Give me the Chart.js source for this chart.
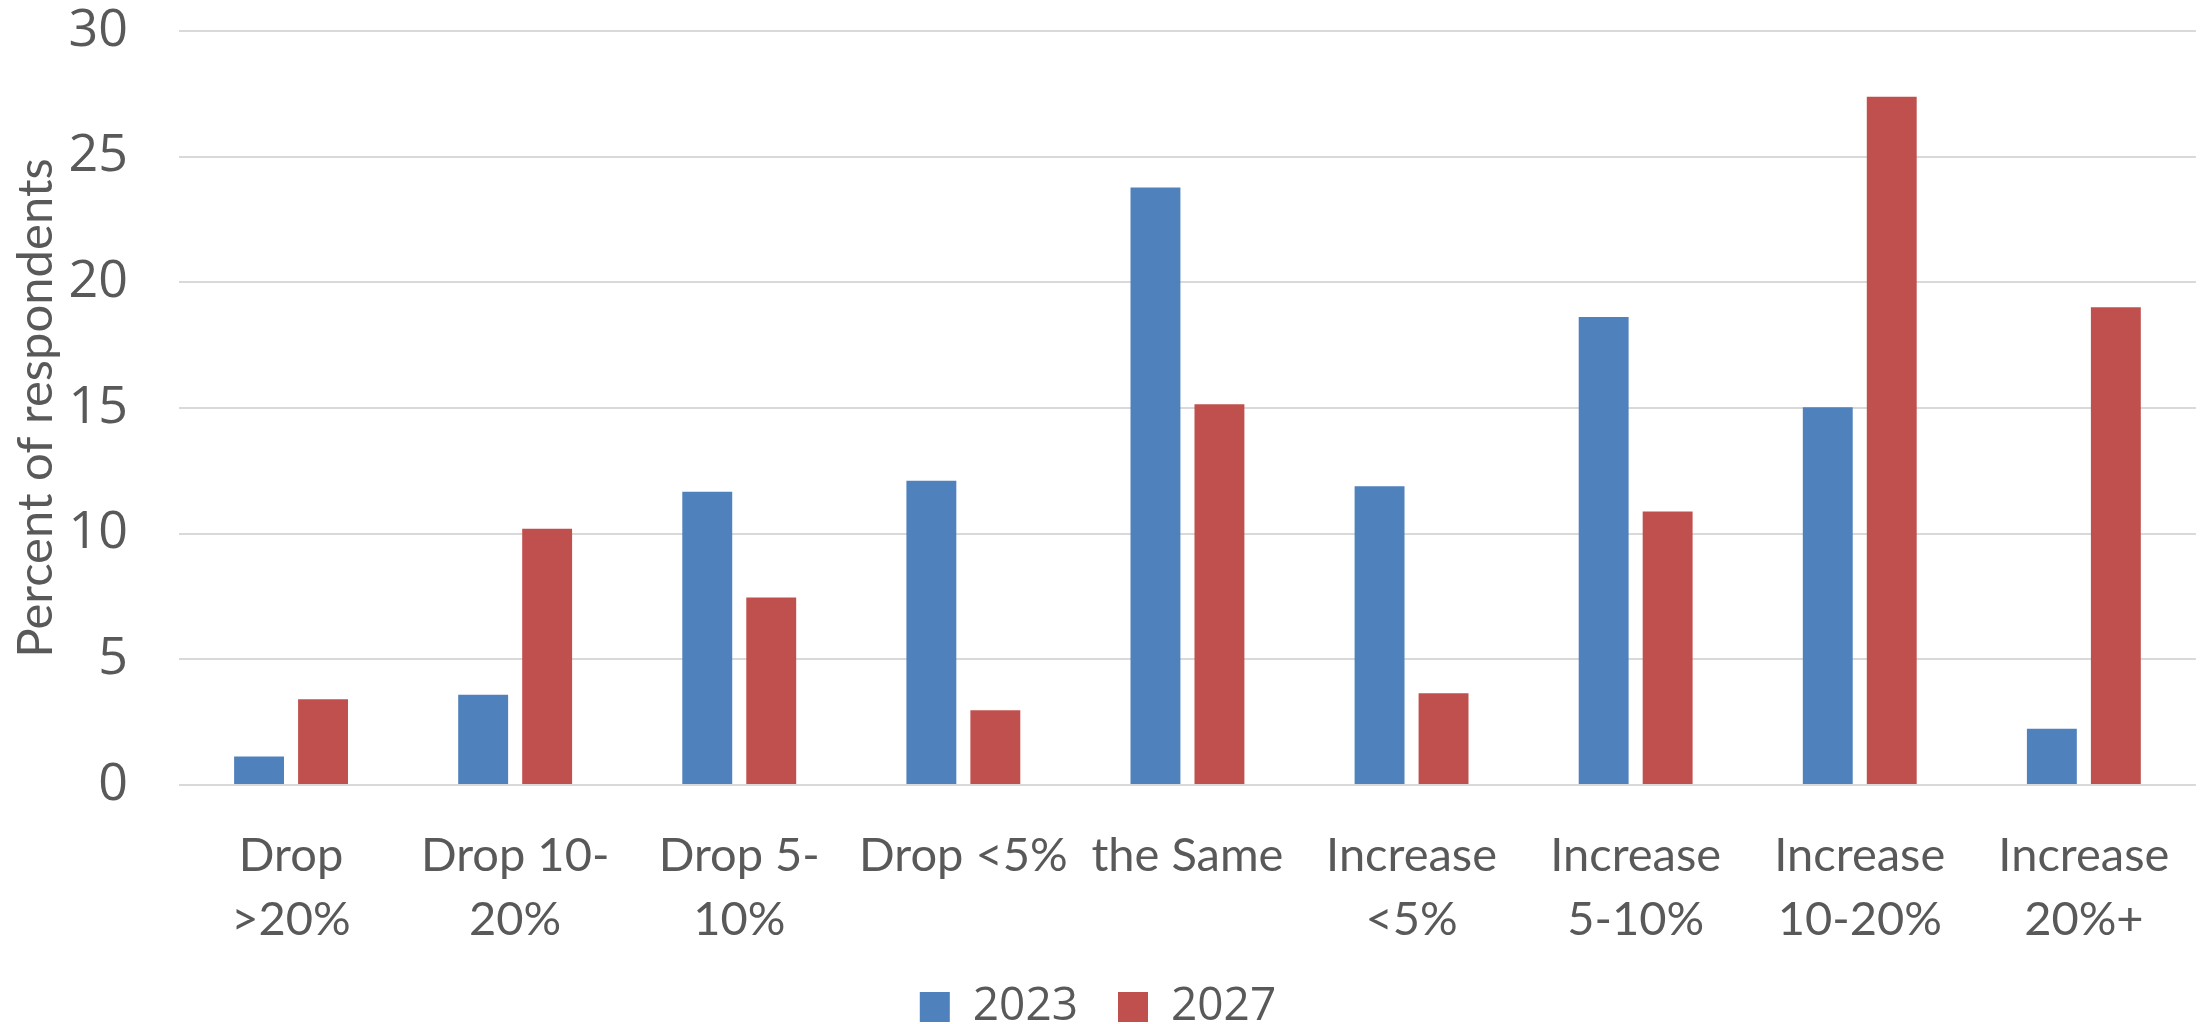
<!DOCTYPE html>
<html>
<head>
<meta charset="utf-8">
<title>Percent of respondents</title>
<script src="https://cdn.jsdelivr.net/npm/chart.js@4/dist/chart.umd.min.js"></script>
<style>
  html, body { margin: 0; padding: 0; background: #ffffff; }
  #wrap { width: 2208px; height: 1024px; }
</style>
</head>
<body>
<div id="wrap"><canvas id="chart" width="2208" height="1024"></canvas></div>
<script>
// Expected change categories (multi-line tick labels)
const categories = [
  ["Drop", ">20%"],
  ["Drop 10-", "20%"],
  ["Drop 5-", "10%"],
  "Drop <5%",
  "the Same",
  ["Increase", "<5%"],
  ["Increase", "5-10%"],
  ["Increase", "10-20%"],
  ["Increase", "20%+"]
];

const seriesNames = ["2023", "2027"];

// Percent of respondents per category
const values2023 = [1.13, 3.59, 11.67, 12.11, 23.77, 11.89, 18.62, 15.03, 2.24];
const values2027 = [3.41, 10.2, 7.46, 2.97, 15.15, 3.65, 10.88, 27.38, 19.01];

const yTicks = [0, 5, 10, 15, 20, 25, 30];

const textColor = '#595959';
const gridColor = '#D9D9D9';

new Chart(document.getElementById('chart'), {
  type: 'bar',
  data: {
    labels: categories,
    datasets: [
      {
        label: seriesNames[0],
        data: values2023,
        backgroundColor: '#4F81BD',
        categoryPercentage: 0.571,
        barPercentage: 0.78
      },
      {
        label: seriesNames[1],
        data: values2027,
        backgroundColor: '#C0504D',
        categoryPercentage: 0.571,
        barPercentage: 0.78
      }
    ]
  },
  options: {
    responsive: false,
    devicePixelRatio: 1,
    animation: false,
    layout: { padding: { top: 31, bottom: -16, left: 0, right: 12 } },
    plugins: {
      title: { display: false },
      tooltip: { enabled: false },
      legend: {
        position: 'bottom',
        labels: {
          boxWidth: 30,
          boxHeight: 30,
          padding: 40,
          color: textColor,
          font: { family: 'Open Sans', size: 46 }
        }
      }
    },
    scales: {
      x: {
        grid: { display: false, drawTicks: false },
        border: { display: false },
        ticks: {
          color: textColor,
          padding: 38,
          maxRotation: 0,
          autoSkip: false,
          font: { family: 'Lato', size: 47, lineHeight: 1.38 }
        },
        afterFit: (scale) => { scale.height = 159; }
      },
      y: {
        min: 0,
        max: 30,
        afterBuildTicks: (scale) => { scale.ticks = yTicks.map(v => ({ value: v })); },
        grid: { color: gridColor, lineWidth: 2, drawTicks: false },
        border: { display: false },
        ticks: {
          color: textColor,
          padding: 51,
          font: { family: 'Open Sans', size: 52 }
        },
        title: {
          display: true,
          text: 'Percent of respondents',
          color: textColor,
          padding: { top: 7, bottom: 0 },
          font: { family: 'Lato', size: 49 }
        },
        afterFit: (scale) => {
          scale.width = 179;
          scale.paddingTop = 0;
          scale.paddingBottom = 0;
        }
      }
    }
  }
});
</script>
</body>
</html>
